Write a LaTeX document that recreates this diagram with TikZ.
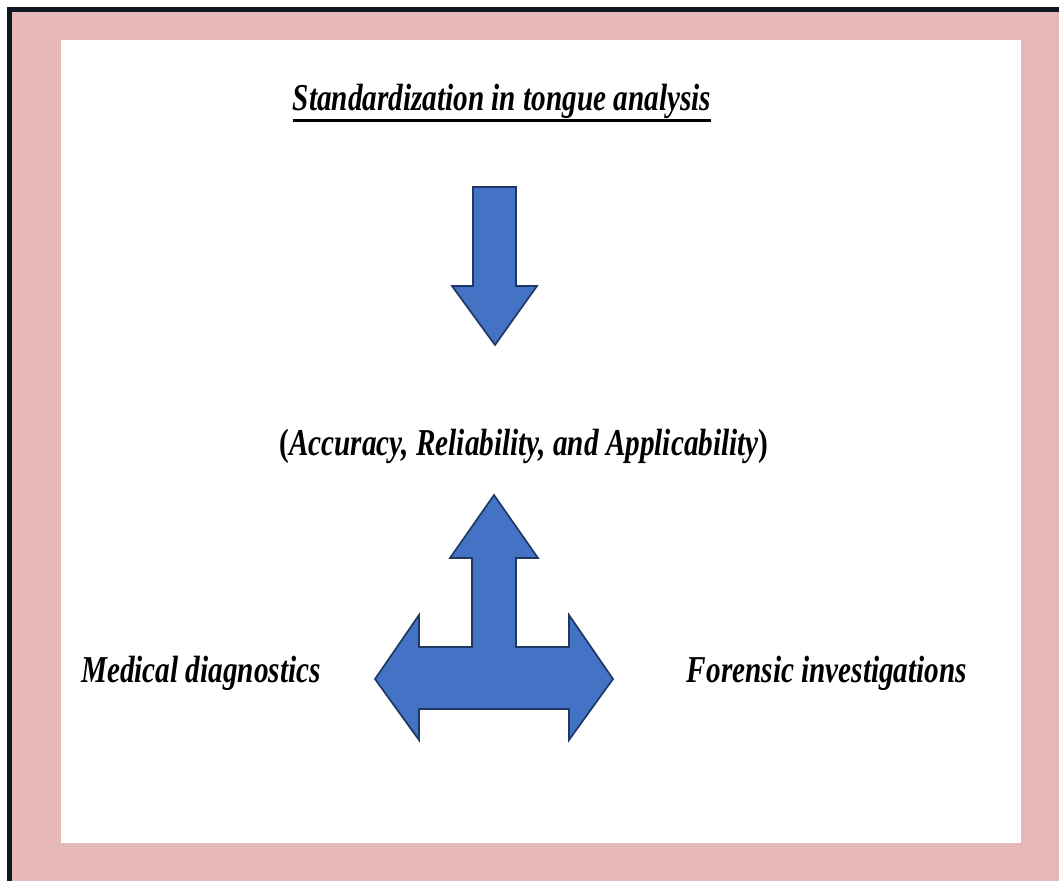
\documentclass[tikz,border=0pt]{standalone}
\usepackage{fontspec}
\newfontfamily\narrowfont[FakeStretch=0.77]{Liberation Serif}
\usetikzlibrary{positioning}
\definecolor{framepink}{HTML}{E6B8B7}
\definecolor{frameline}{HTML}{0F1722}
\definecolor{arrowblue}{HTML}{4472C4}
\definecolor{arrowline}{HTML}{1F3864}
\tikzstyle{bigtext} = [font=\narrowfont\bfseries\itshape\fontsize{27}{32}\selectfont, inner sep=0pt, anchor=base]
\tikzstyle{blockarrow} = [fill=arrowblue, draw=arrowline, line width=1.2pt, line join=miter]

\begin{document}
\begin{tikzpicture}[x=0.025cm, y=-0.025cm]
        \useasboundingbox (0,0) rectangle (1059,881);
        \clip (0,0) rectangle (1059,881);
        \fill[white] (0,0) rectangle (1059,881);
        \draw[frameline, line width=3.6pt, fill=framepink] (9.5,9.5) rectangle (1090,910);
        \fill[white] (61,40) rectangle (1021,843);

        \node (title) [bigtext] at (502,110) {Standardization in tongue analysis};
        \draw [line width=2.2pt] ([yshift=-7.5pt]title.base west) -- ([yshift=-7.5pt]title.base east);

        \node (goals) [bigtext] at (524,455) {\textup{(}Accuracy, Reliability, and Applicability\textup{)}};
        \node (medical) [bigtext] at (201,682) {Medical diagnostics};
        \node (forensic) [bigtext] at (827,682) {Forensic investigations};

        \draw [blockarrow] (473,187) -- (516,187) -- (516,286) -- (537,286) -- (495,345)
            -- (452,286) -- (473,286) -- cycle;

        \draw [blockarrow] (494,495) -- (538,558) -- (516,558) -- (516,647) -- (569,647)
            -- (569,615) -- (613,679) -- (569,740) -- (569,709) -- (419,709) -- (419,740)
            -- (375,679) -- (419,615) -- (419,647) -- (472,647) -- (472,558) -- (450,558) -- cycle;
\end{tikzpicture}
\end{document}
